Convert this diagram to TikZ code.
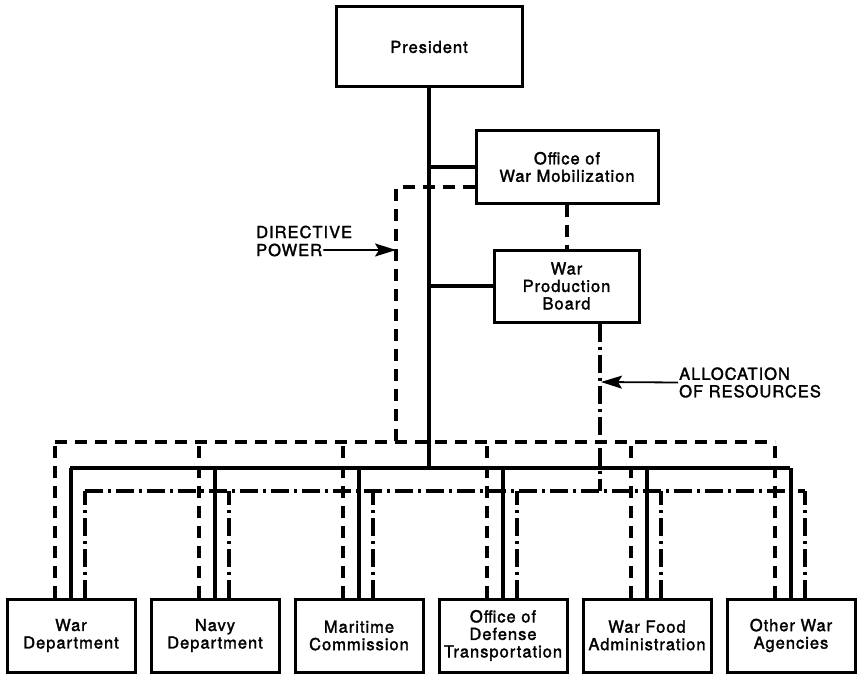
\documentclass[tikz,border=0pt]{standalone}
\usepackage{fontspec}
\newfontfamily\lblfont{TeX Gyre Heros}[LetterSpace=6,FakeBold=1.8]
\newcommand\lbl{\lblfont\fontsize{16.5}{17.5}\selectfont}
\usetikzlibrary{arrows.meta,calc}
\begin{document}
\begin{tikzpicture}[x=1pt,y=-1pt,
  box/.style={draw,line width=3pt,inner sep=0pt,align=center,font=\lbl,
              minimum width=128pt,minimum height=73pt},
  sol/.style={line width=3.2pt},
  dsh/.style={line width=3.2pt,dash pattern=on 12pt off 8pt},
  dd/.style={line width=3.2pt,dash pattern=on 18pt off 5pt on 3pt off 5pt},
  lab/.style={font=\lbl,align=left,inner sep=0pt},
  arr/.style={line width=1.8pt,-{Stealth[length=21pt,width=13pt,inset=4pt]}}]
\useasboundingbox (0,0) rectangle (857,674);

% top boxes
\node[box,minimum width=186pt,minimum height=80pt] (pres) at (429,47) {President};
\node[box,minimum width=182pt,minimum height=72pt] (owm) at (567,167) {Office of\\War Mobilization};
\node[box,minimum width=145pt,minimum height=72pt] (wpb) at (566.5,286) {War\\Production\\Board};

% bottom boxes
\node[box] (wd)  at (71,635.5)  {War\\Department};
\node[box] (nd)  at (215,635.5) {Navy\\Department};
\node[box] (mc)  at (359,635.5) {Maritime\\Commission};
\node[box] (odt) at (503,635.5) {Office of\\Defense\\Transportation};
\node[box] (wfa) at (647,635.5) {War Food\\Administration};
\node[box] (owa) at (791,635.5) {Other War\\Agencies};

% bus coordinates
\coordinate (sL) at (70,468);  \coordinate (sR) at (790,468);
\coordinate (dL) at (55,442);  \coordinate (dR) at (775,442);
\coordinate (dJ) at (396,442);
\coordinate (ddL) at (85,491); \coordinate (ddR) at (805,491);
\coordinate (wpbD) at ($(wpb.south)+(33.5,0)$);
\coordinate (owmD) at ($(owm.west)+(0,20)$);

% solid (line of authority)
\draw[sol] (pres.south) -- (pres.south |- sL);
\draw[sol] (owm.west) -- (owm.west -| pres.south);
\draw[sol] (wpb.west) -- (wpb.west -| pres.south);
\draw[sol] (sL) -- (sR);
\foreach \b in {wd,nd,mc,odt,wfa,owa}
  \draw[sol] (\b.north) -- (\b.north |- sL);

% dashed (directive power)
\draw[dsh] (owmD) -| (dJ);
\draw[dsh] (owm.south) -- (owm.south |- wpb.north);
\draw[dsh] (dL) -- (dR);
\foreach \b in {wd,nd,mc,odt,wfa,owa}
  \draw[dsh] ([xshift=-16pt]\b.north) -- ([xshift=-16pt]\b.north |- dL);

% dash-dot (allocation of resources)
\draw[dd] (wpbD) -- (wpbD |- ddL);
\draw[dd] (ddL) -- (ddR);
\foreach \b in {wd,nd,mc,odt,wfa,owa}
  \draw[dd] ([xshift=14pt]\b.north) -- ([xshift=14pt]\b.north |- ddL);

% labels with arrows
\node[lab,anchor=base west] (dp1) at (256,238) {DIRECTIVE};
\node[lab,anchor=base west] (dp2) at (256,256) {POWER};
\coordinate (dpT) at (396,250);
\draw[arr] ([xshift=1pt]dp2.east) -- (dpT);

\node[lab,anchor=west] (ar) at (679,382.5) {ALLOCATION\\OF RESOURCES};
\coordinate (arT) at (601,382);
\draw[arr] ([xshift=-1pt]ar.west) -- (arT);
\end{tikzpicture}
\end{document}
